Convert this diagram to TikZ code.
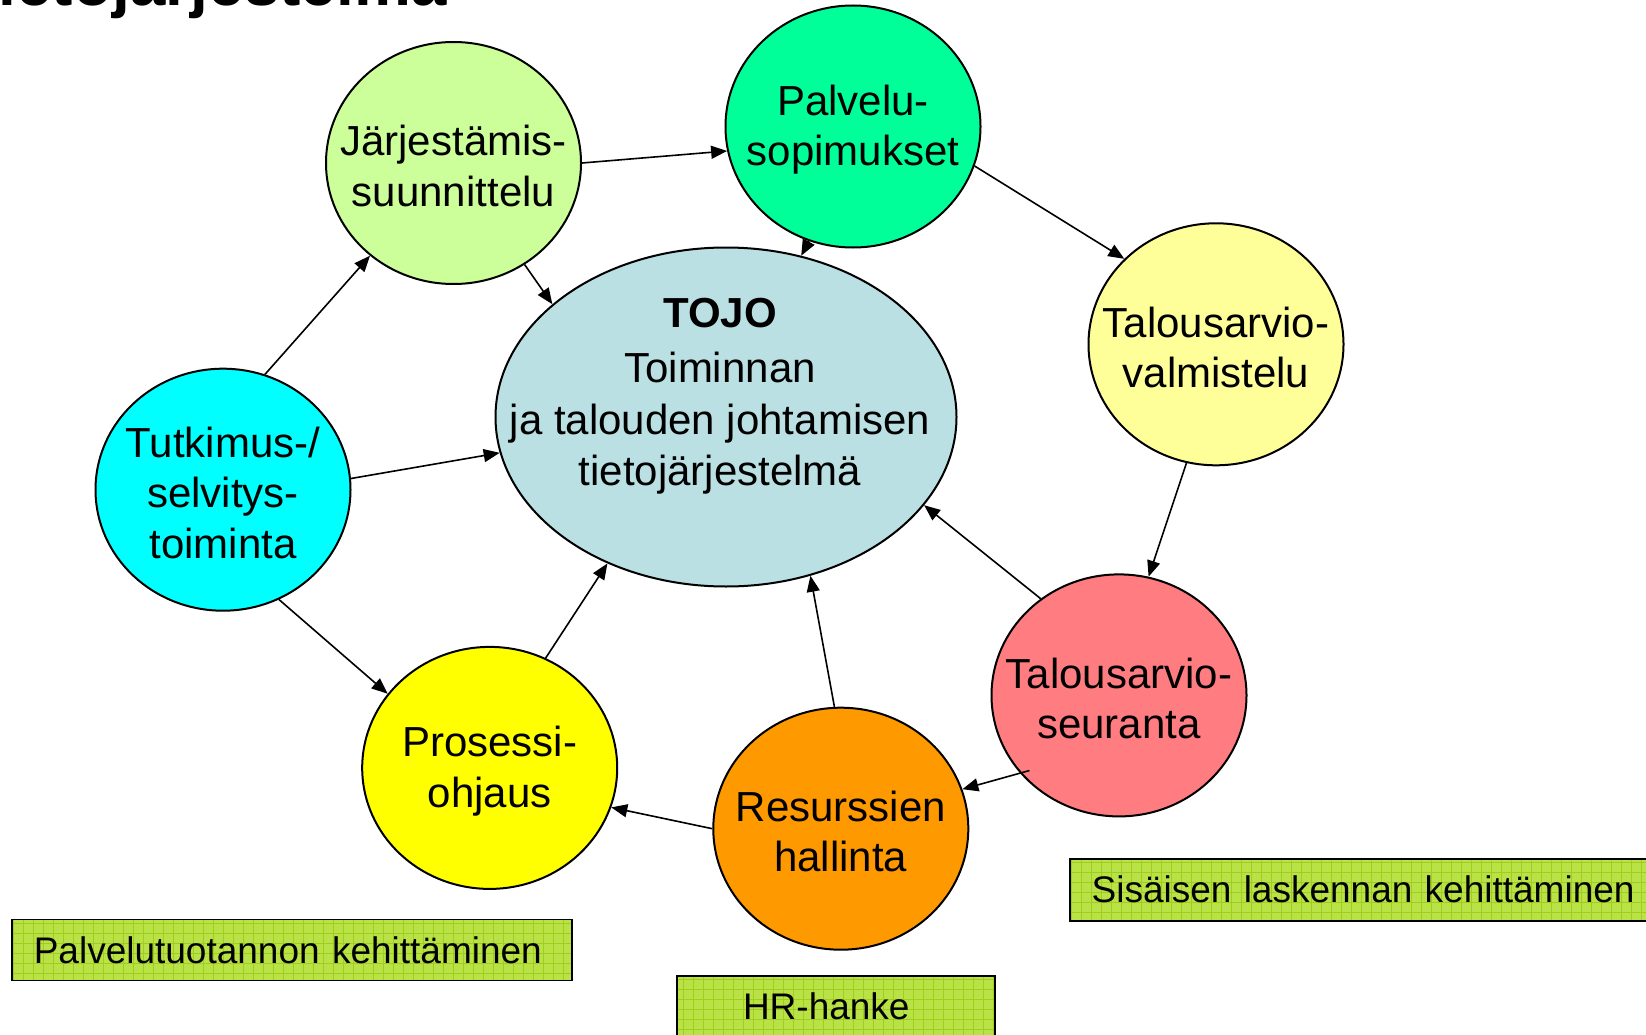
\documentclass[tikz,border=0pt]{standalone}
\usepackage{fontspec}
\setmainfont{Liberation Sans}
\usetikzlibrary{shapes.geometric,arrows.meta,calc}
\definecolor{cJ}{RGB}{204,255,153}
\definecolor{cP}{RGB}{0,255,153}
\definecolor{cT}{RGB}{186,224,227}
\definecolor{cV}{RGB}{255,255,153}
\definecolor{cU}{RGB}{0,255,255}
\definecolor{cS}{RGB}{255,124,128}
\definecolor{cO}{RGB}{255,255,0}
\definecolor{cR}{RGB}{255,153,0}
\definecolor{boxgreen}{RGB}{185,226,70}
\definecolor{gridgreen}{RGB}{160,205,30}
\tikzset{
  circ/.style={ellipse, draw=black, line width=2pt, minimum width=255pt, minimum height=242pt, inner sep=0pt},
  ctext/.style={align=center, font=\fontsize{42}{50.5}\selectfont, inner sep=0pt, yshift=-3pt},
  arr/.style={line width=1.6pt, -{Triangle[length=16pt,width=13pt]}},
  gbox/.style={draw=black, line width=1.8pt, fill=boxgreen, inner ysep=0pt, align=left, font=\fontsize{37}{44}\selectfont,
    path picture={\draw[gridgreen, line width=0.8pt, step=10pt] (path picture bounding box.south west) grid (path picture bounding box.north east);}},
}
\begin{document}
\begin{tikzpicture}[x=1pt,y=-1pt]
\clip (0,0) rectangle (1646,1035);
\fill[white] (0,0) rectangle (1646,1035);
% title (cut off at top)
\node[anchor=base east, inner sep=0pt, font=\fontsize{64}{70}\selectfont\bfseries] (title) at (447,6) {tietojärjestelmä};
% nodes
\node[ellipse, draw=black, line width=2pt, fill=cT, minimum width=461pt, minimum height=339pt, inner sep=0pt] (T) at (726,417) {};
\node[align=center, font=\fontsize{42}{51.5}\selectfont] (Ttext) at (720,396) {\textbf{TOJO}\\[4pt]Toiminnan\\ja talouden johtamisen\\tietojärjestelmä};
\node[circ, fill=cJ, label={[ctext]center:Järjestämis-\\suunnittelu}] (J) at (453.5,163) {};
\node[circ, fill=cP, label={[ctext]center:Palvelu-\\sopimukset}] (P) at (853,126.5) {};
\node[circ, fill=cV, label={[ctext]center:Talousarvio-\\valmistelu}] (V) at (1216,344.3) {};
\node[circ, fill=cU, label={[ctext]center:Tutkimus-/\\selvitys-\\toiminta}] (U) at (223,489.7) {};
\node[circ, fill=cS, label={[ctext]center:Talousarvio-\\seuranta}] (S) at (1119,695.4) {};
\node[circ, fill=cO, label={[ctext]center:Prosessi-\\ohjaus}] (O) at (489.7,767.9) {};
\node[circ, fill=cR, label={[ctext]center:Resurssien\\hallinta}] (R) at (840.8,828.7) {};
% arrows
\draw[arr] (J.0) -- (P.191);
\draw[arr] (J.-55) -- (T.147);
\draw[arr] (P.249) -- (T.65);
\draw[arr] (P.-18) -- (V.137);
\draw[arr] (V.-104) -- (S.76);
\draw[arr] (S.129) -- (T.-24);
\draw[arr] ($(S.center)!0.93!(S.220)$) -- (R.18);
\draw[arr] (R.93) -- (T.-62);
\draw[arr] (R.180) -- (O.-18);
\draw[arr] (O.63) -- (T.231);
\draw[arr] (U.-63.5) -- (O.144);
\draw[arr] (U.5) -- (T.189);
\draw[arr] (U.70.5) -- (J.228);
% green boxes
\node[gbox, minimum width=560pt, minimum height=61pt, inner xsep=22pt, text width=516pt] (b1) at (291.8,950) {Palvelutuotannon kehittäminen};
\node[gbox, minimum width=318pt, minimum height=61pt, inner xsep=66pt, text width=186pt] (b2) at (836,1006.5) {HR-hanke};
\node[gbox, minimum width=600pt, minimum height=62pt, inner xsep=22pt, text width=556pt] (b3) at (1369.6,889.6) {Sisäisen laskennan kehittäminen};
\end{tikzpicture}
\end{document}
